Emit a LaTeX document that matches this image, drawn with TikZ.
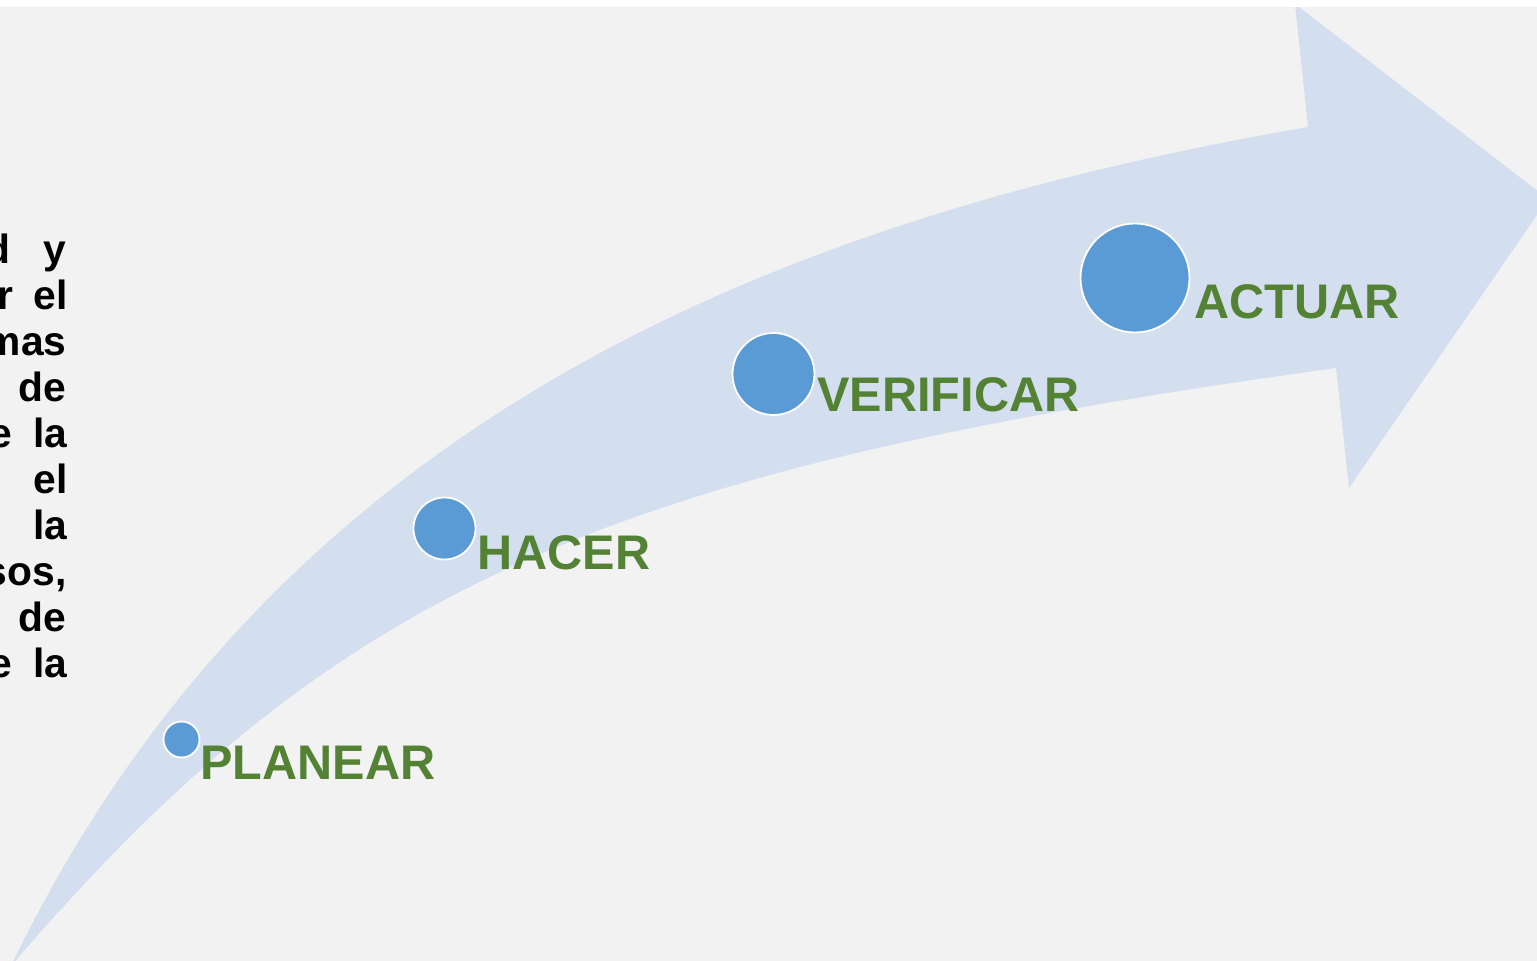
\documentclass[tikz,border=0pt]{standalone}
\usepackage{fontspec}
\setmainfont{Liberation Sans}
\definecolor{bggray}{HTML}{F2F2F2}
\definecolor{arrowblue}{HTML}{D3DEEF}
\definecolor{dotblue}{HTML}{5B9BD5}
\definecolor{labelgreen}{HTML}{548235}
\begin{document}
\begin{tikzpicture}[x=0.5pt,y=-0.5pt,
  dot/.style={circle,fill=dotblue,draw=white,line width=0.9pt,inner sep=0pt},
  phaselabel/.style={anchor=base west,inner sep=0pt,text=labelgreen,font=\fontsize{24.3}{28}\selectfont\bfseries},
  sidetext/.style={anchor=base east,inner sep=0pt,font=\fontsize{20.4}{23}\selectfont\bfseries}]
\useasboundingbox (0,0) rectangle (1537,961);
\clip (0,0) rectangle (1537,961);
\fill[white] (0,0) rectangle (1537,961);
\fill[bggray] (0,7) rectangle (1537,961);
% curved arrow
\fill[arrowblue] (11,966) .. controls (281,406) and (800,215) .. (1308,127)
  -- (1295,4) -- (1548,199) -- (1349,488) -- (1336,368)
  .. controls (598,470) and (334,589) .. (11,966) -- cycle;
\fill[white] (0,0) rectangle (1537,7);
% left text fragments
\node[sidetext] (t1a) at (11,264) {d};
\node[sidetext] (t1b) at (67,264) {y};
\node[sidetext] (t2a) at (14,310) {r};
\node[sidetext] (t2b) at (68,310) {el};
\node[sidetext] (t3) at (67,356) {mas};
\node[sidetext] (t4) at (67,402) {de};
\node[sidetext] (t5a) at (13,448) {e};
\node[sidetext] (t5b) at (68,448) {la};
\node[sidetext] (t6) at (68,494) {el};
\node[sidetext] (t7) at (68,540) {la};
\node[sidetext] (t8) at (67,586) {sos,};
\node[sidetext] (t9) at (67,632) {de};
\node[sidetext] (t10a) at (13,678) {e};
\node[sidetext] (t10b) at (68,678) {la};
% dots
\node[dot,minimum size=18pt] (d1) at (181.5,739.5) {};
\node[dot,minimum size=31pt] (d2) at (444.5,528.5) {};
\node[dot,minimum size=41pt] (d3) at (773.5,374) {};
\node[dot,minimum size=54.5pt] (d4) at (1135,278) {};
% labels
\node[phaselabel] (l1) at (200,780) {PLANEAR};
\node[phaselabel] (l2) at (477,570) {HACER};
\node[phaselabel] (l3) at (817,412) {VERIFICAR};
\node[phaselabel] (l4) at (1194,319) {ACTUAR};
\end{tikzpicture}
\end{document}
